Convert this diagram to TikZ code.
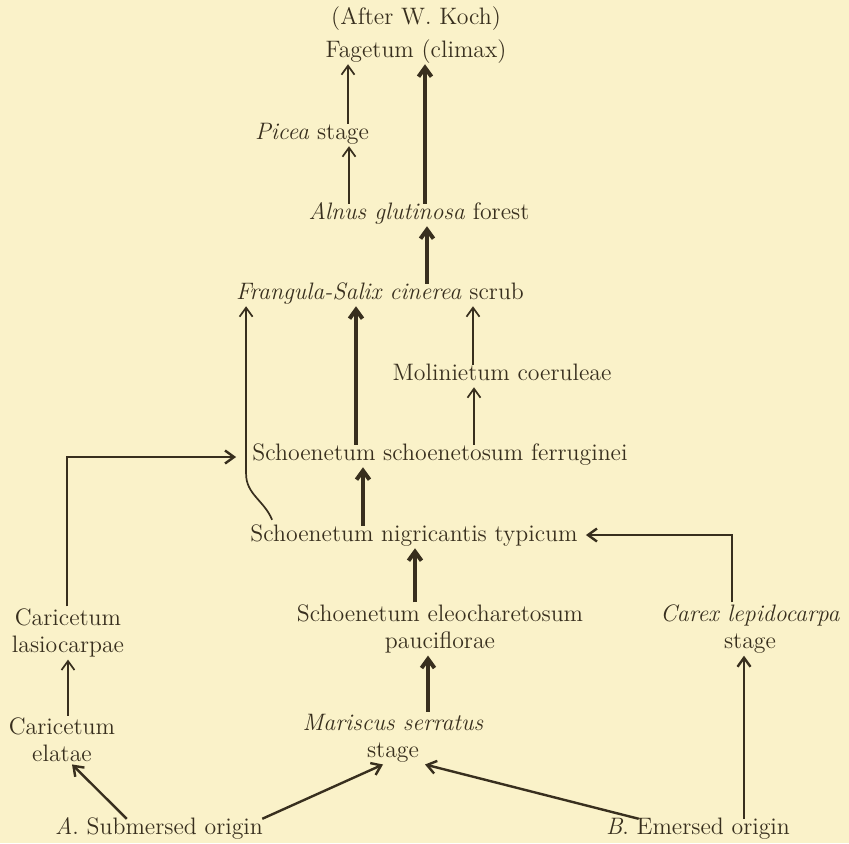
\documentclass[tikz,border=0pt]{standalone}
\usetikzlibrary{arrows.meta}
\definecolor{paper}{RGB}{250,242,201}
\definecolor{ink}{RGB}{56,47,30}
\begin{document}
\begin{tikzpicture}[x=0.5pt,y=-0.5pt,
  comm/.style={text=ink,font=\fontsize{11.9}{13.5}\selectfont,inner sep=1pt,align=center},
  stage/.style={comm,text height=1.6ex,text depth=0.45ex},
  succ/.style={draw=ink,line width=0.85pt,-{Straight Barb[length=4.5pt,width=6.5pt]}},
  succmid/.style={succ,line width=1.2pt},
  succbold/.style={succ,line width=2pt}]
\fill[paper] (0,0) rectangle (849,843);
% communities
\node[stage] (after) at (416,20) {(After W. Koch)};
\node[stage] (fag) at (416,53) {Fagetum (climax)};
\node[stage] (picea) at (312,135) {\textit{Picea} stage};
\node[stage] (alnus) at (419,215) {\textit{Alnus glutinosa} forest};
\node[stage] (frang) at (380,295) {\textit{Frangula-Salix cinerea} scrub};
\node[stage] (molin) at (502,376) {Molinietum coeruleae};
\node[stage] (sfer) at (440,456) {Schoenetum schoenetosum ferruginei};
\node[stage] (nigr) at (414,537) {Schoenetum nigricantis typicum};
\node[comm] (eleo) at (440,629) {Schoenetum eleocharetosum\\pauciflorae};
\node[comm] (carex) at (750,629) {\textit{Carex lepidocarpa}\\stage};
\node[comm] (lasio) at (68,633) {Caricetum\\lasiocarpae};
\node[comm] (elatae) at (62,740) {Caricetum\\elatae};
\node[comm] (mar) at (393,738) {\textit{Mariscus serratus}\\stage};
\node[stage] (sub) at (159,830) {\textit{A}. Submersed origin};
\node[stage] (emer) at (698,830) {\textit{B}. Emersed origin};
% upper part
\draw[succ] ([xshift=18pt]picea.north) -- ([xshift=-34pt]fag.south);
\draw[succ] ([xshift=-35pt]alnus.north) -- ([xshift=18.5pt]picea.south);
\draw[succbold] ([xshift=3pt]alnus.north) -- ([xshift=4.5pt]fag.south);
\draw[succbold] ([xshift=23.5pt]frang.north) -- ([xshift=4pt]alnus.south);
\draw[succbold] ([xshift=-42pt]sfer.north) -- ([xshift=-12pt]frang.south);
\draw[succ] ([xshift=-14.5pt]molin.north) -- ([xshift=46.5pt]frang.south);
\draw[succ] ([xshift=17pt]sfer.north) -- ([xshift=-14pt]molin.south);
\draw[succ] ([xshift=12pt,yshift=3pt]nigr.north west) to[out=112,in=-90] ++(-26,-46)
  coordinate (bend) -- (bend |- frang.south);
% middle part
\draw[succbold] ([xshift=-25.5pt]nigr.north) -- ([xshift=-38.5pt]sfer.south);
\draw[succbold] ([xshift=-12.5pt]eleo.north) -- ([xshift=0.5pt]nigr.south);
\draw[succbold] ([xshift=17.5pt]mar.north) -- ([xshift=-6pt]eleo.south);
\draw[succ] ([xshift=3pt]elatae.north) -- (lasio.south);
\draw[succmid] ([xshift=-0.5pt]lasio.north) |- ([xshift=-7pt,yshift=-0.5pt]sfer.west);
\draw[succmid] ([xshift=-9pt]carex.north) |- ([xshift=3pt,yshift=1pt]nigr.east);
% origins
\draw[succmid] ([xshift=23pt]emer.north) -- ([xshift=-3pt]carex.south);
\draw[succmid] ([xshift=17.5pt]emer.north west) -- ([xshift=16pt]mar.south);
\draw[succmid] ([xshift=-1.5pt]sub.north east) -- ([xshift=-5pt]mar.south);
\draw[succmid] ([xshift=37pt]sub.north west) -- ([xshift=5pt]elatae.south);
\end{tikzpicture}
\end{document}
